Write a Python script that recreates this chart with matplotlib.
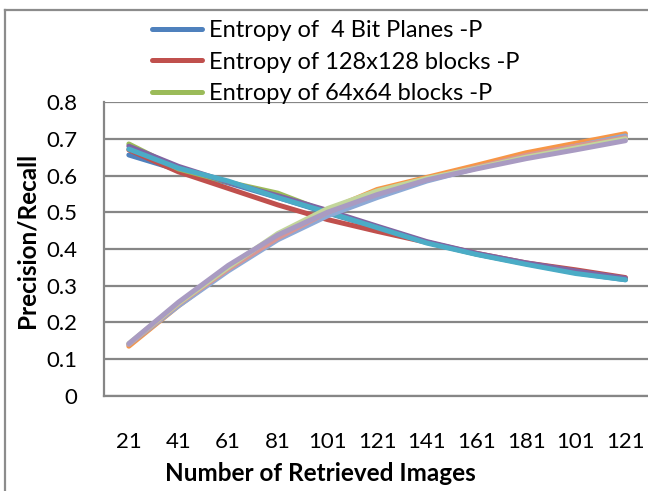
import matplotlib
matplotlib.use("Agg")
import matplotlib.pyplot as plt
from matplotlib.lines import Line2D

# tick labels on the category axis (as printed in the original chart)
retrieved = ["21", "41", "61", "81", "101", "121", "141", "161", "181", "101", "121"]

# precision curves
p_bitplanes = [0.656, 0.615, 0.580, 0.540, 0.498, 0.458, 0.418, 0.386, 0.360, 0.335, 0.316]
p_blocks128 = [0.670, 0.610, 0.565, 0.520, 0.480, 0.448, 0.418, 0.388, 0.362, 0.343, 0.322]
p_blocks64 = [0.686, 0.618, 0.582, 0.552, 0.500, 0.460, 0.418, 0.386, 0.360, 0.337, 0.318]
p_series4 = [0.680, 0.625, 0.582, 0.545, 0.505, 0.462, 0.420, 0.388, 0.362, 0.340, 0.320]
p_series5 = [0.672, 0.620, 0.585, 0.540, 0.500, 0.458, 0.416, 0.385, 0.358, 0.333, 0.316]

# recall curves
r_series1 = [0.135, 0.245, 0.345, 0.435, 0.505, 0.562, 0.595, 0.628, 0.662, 0.688, 0.714]
r_series2 = [0.140, 0.245, 0.340, 0.425, 0.490, 0.540, 0.585, 0.620, 0.652, 0.680, 0.708]
r_series3 = [0.140, 0.250, 0.345, 0.430, 0.500, 0.552, 0.590, 0.622, 0.655, 0.680, 0.703]
r_series4 = [0.142, 0.252, 0.350, 0.442, 0.510, 0.558, 0.592, 0.620, 0.650, 0.675, 0.700]
r_series5 = [0.142, 0.255, 0.355, 0.438, 0.500, 0.548, 0.588, 0.618, 0.646, 0.670, 0.695]

legend_names = ["Entropy of  4 Bit Planes -P",
                "Entropy of 128x128 blocks -P",
                "Entropy of 64x64 blocks -P"]

plt.rcParams['font.family'] = ['Lato', 'DejaVu Sans']

fig = plt.figure(figsize=(6.48, 4.91), dpi=100)
ax = fig.add_axes([0.1605, 0.194, 0.843, 0.598])

x = list(range(len(retrieved)))
lw = 3.6
ax.plot(x, p_bitplanes, color="#4F81BD", lw=lw, solid_capstyle="round", label=legend_names[0])
ax.plot(x, p_blocks128, color="#C0504D", lw=lw, solid_capstyle="round", label=legend_names[1])
ax.plot(x, p_blocks64, color="#9BBB59", lw=lw, solid_capstyle="round", label=legend_names[2])
ax.plot(x, p_series4, color="#8064A2", lw=lw, solid_capstyle="round")
ax.plot(x, p_series5, color="#4BACC6", lw=lw, solid_capstyle="round")
ax.plot(x, r_series1, color="#F79646", lw=lw, solid_capstyle="round")
ax.plot(x, r_series2, color="#8EAAD6", lw=lw, solid_capstyle="round")
ax.plot(x, r_series3, color="#D99694", lw=lw, solid_capstyle="round")
ax.plot(x, r_series4, color="#C3D69B", lw=lw, solid_capstyle="round")
ax.plot(x, r_series5, color="#A99BC2", lw=lw, solid_capstyle="round")

ax.set_xlim(-0.5, len(retrieved) - 0.5)
ax.set_ylim(0, 0.8)
ax.set_yticks([0, 0.1, 0.2, 0.3, 0.4, 0.5, 0.6, 0.7, 0.8])
ax.set_yticklabels(["0", "0.1", "0.2", "0.3", "0.4", "0.5", "0.6", "0.7", "0.8"])
ax.set_xticks(x)
ax.set_xticklabels(retrieved)
ax.tick_params(axis="both", length=0, labelsize=16, colors="black")
ax.tick_params(axis="x", pad=26)
ax.tick_params(axis="y", pad=19)

ax.grid(axis="y", color="#868686", lw=1.6)
ax.set_axisbelow(True)
for s in ["top", "right"]:
    ax.spines[s].set_visible(False)
for s in ["left", "bottom"]:
    ax.spines[s].set_color("#868686")
    ax.spines[s].set_linewidth(1.6)

fig.text(0.495, 0.036, "Number of Retrieved Images", fontsize=17.5, fontweight="bold",
         ha="center", va="center")
fig.text(0.042, 0.51, "Precision/Recall", fontsize=17.5, fontweight="bold",
         rotation=90, ha="center", va="center")

fig.legend(handles=ax.get_lines()[:3], loc="upper left", bbox_to_anchor=(152 / 648, 1 - 20 / 491),
           bbox_transform=fig.transFigure, frameon=False, fontsize=17,
           handlelength=2.1, handletextpad=0.3, labelspacing=0.45, borderpad=0, borderaxespad=0)

# outer chart border (left and top edges only are visible)
fig.add_artist(Line2D([4.5 / 648, 4.5 / 648], [0, 1 - 9.5 / 491], color="#8C8C8C", lw=1.6))
fig.add_artist(Line2D([4.5 / 648, 1], [1 - 9.5 / 491, 1 - 9.5 / 491], color="#8C8C8C", lw=1.6))

fig.savefig("out.png", dpi=100)
